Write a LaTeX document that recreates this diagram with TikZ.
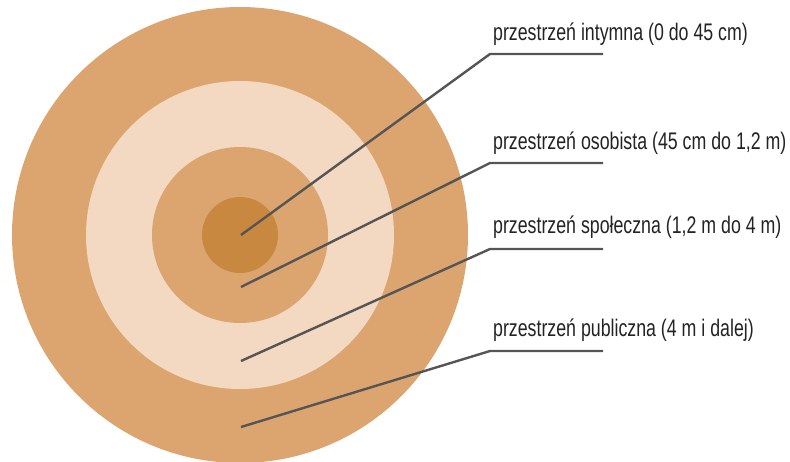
\documentclass[tikz,border=0pt]{standalone}
\usepackage{fontspec}
\setmainfont{Liberation Sans}[FakeStretch=0.74]
\usepackage{tikz}
\usetikzlibrary{calc}

\definecolor{zoneouter}{RGB}{220,165,112}
\definecolor{zonelight}{RGB}{243,216,194}
\definecolor{zonecore}{RGB}{201,136,64}
\definecolor{leadgray}{RGB}{85,85,85}
\definecolor{labelgray}{RGB}{35,35,35}

\tikzset{
  lead/.style={draw=leadgray, line width=2.4pt},
  zonelabel/.style={anchor=base west, inner sep=0pt, text=labelgray, font=\fontsize{24}{27}\selectfont}
}

\begin{document}
\begin{tikzpicture}[x=1pt, y=-1pt]
  \useasboundingbox (0,0) rectangle (790,461);
  % concentric zones, all around the same centre
  \coordinate (C) at (240,235);
  \fill[zoneouter] (C) circle (228);
  \fill[zonelight] (C) circle (154);
  \fill[zoneouter] (C) circle (88);
  \fill[zonecore] (C) circle (38);
  % labels
  \node[zonelabel] (intymna) at (493,40) {przestrzeń intymna (0 do 45 cm)};
  \node[zonelabel] (osobista) at (493,149) {przestrzeń osobista (45 cm do 1,2 m)};
  \node[zonelabel] (spoleczna) at (493,233) {przestrzeń społeczna (1,2 m do 4 m)};
  \node[zonelabel] (publiczna) at (493,336) {przestrzeń publiczna (4 m i dalej)};
  % leader lines: end inside each zone, knee, then under the label
  \coordinate (E1) at (241,235);
  \coordinate (E2) at (241,287);
  \coordinate (E3) at (241,361);
  \coordinate (E4) at (241,427);
  \coordinate (K1) at (490,54);
  \coordinate (K2) at (490,163);
  \coordinate (K3) at (490,249);
  \coordinate (K4) at (490,351);
  \coordinate (H1) at (603,54);
  \coordinate (H2) at (603,163);
  \coordinate (H3) at (603,249);
  \coordinate (H4) at (603,351);
  \draw[lead] (E1) -- (K1) -- (H1);
  \draw[lead] (E2) -- (K2) -- (H2);
  \draw[lead] (E3) -- (K3) -- (H3);
  \draw[lead] (E4) -- (K4) -- (H4);
\end{tikzpicture}
\end{document}
